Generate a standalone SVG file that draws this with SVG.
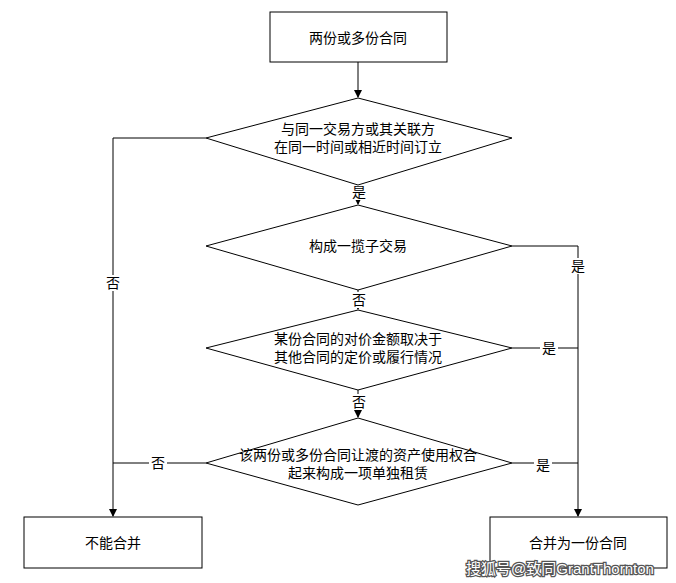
<svg xmlns="http://www.w3.org/2000/svg" width="676" height="583" viewBox="0 0 676 583">
<style>
.s{fill:#fff;stroke:#000;stroke-width:1}
.t{font-family:"Liberation Sans","Noto Sans CJK SC",sans-serif;font-size:14px;text-anchor:middle;dominant-baseline:central;fill:#000}
.c{fill:none;stroke:#000;stroke-width:1}
.lb{fill:#fff}
</style>
<defs><marker id="a" markerWidth="8" markerHeight="8" refX="7" refY="4" orient="auto" markerUnits="userSpaceOnUse"><path d="M0,0 L8,4 L0,8 Z" fill="#000"/></marker></defs>
<rect width="676" height="583" fill="#fff"/>
<g id="connectors">
<path class="c" d="M358,62 V97" marker-end="url(#a)"/>
<path class="c" d="M358,185 V204" marker-end="url(#a)"/>
<path class="c" d="M358,290 V309" marker-end="url(#a)"/>
<path class="c" d="M358,390 V417" marker-end="url(#a)"/>
<path class="c" d="M206,138 H113 V516" marker-end="url(#a)"/>
<path class="c" d="M206,463 H113"/>
<path class="c" d="M512,246 H578 V516" marker-end="url(#a)"/>
<path class="c" d="M512,348 H578"/>
<path class="c" d="M512,463 H578"/>
<rect class="lb" x="350" y="184" width="18" height="16"/><text class="t" x="359" y="192">是</text>
<rect class="lb" x="350" y="292" width="18" height="16"/><text class="t" x="359" y="300">否</text>
<rect class="lb" x="350" y="394" width="18" height="16"/><text class="t" x="359" y="402">否</text>
<rect class="lb" x="104" y="275" width="18" height="16"/><text class="t" x="113" y="283">否</text>
<rect class="lb" x="149" y="455" width="18" height="16"/><text class="t" x="158" y="463">否</text>
<rect class="lb" x="569" y="258" width="18" height="16"/><text class="t" x="578" y="266">是</text>
<rect class="lb" x="540" y="340" width="18" height="16"/><text class="t" x="549" y="348">是</text>
<rect class="lb" x="534" y="457" width="18" height="16"/><text class="t" x="543" y="465">是</text>
</g>
<g id="n1"><rect class="s" x="270" y="12" width="177" height="50"/><text class="t" x="358" y="38">两份或多份合同</text></g>
<g id="d1"><path class="s" d="M358,98 L512,138 L358,185 L206,138 Z"/><text class="t" x="358" y="129">与同一交易方或其关联方</text><text class="t" x="358" y="147">在同一时间或相近时间订立</text></g>
<g id="d2"><path class="s" d="M358,205 L512,246 L358,290 L206,246 Z"/><text class="t" x="358" y="246">构成一揽子交易</text></g>
<g id="d3"><path class="s" d="M358,310 L512,348 L358,390 L206,348 Z"/><text class="t" x="358" y="339">某份合同的对价金额取决于</text><text class="t" x="358" y="357">其他合同的定价或履行情况</text></g>
<g id="d4"><path class="s" d="M358,418 L512,463 L358,505 L206,463 Z"/><text class="t" x="358" y="455">该两份或多份合同让渡的资产使用权合</text><text class="t" x="358" y="473">起来构成一项单独租赁</text></g>
<g id="n2"><rect class="s" x="24" y="517" width="178" height="51"/><text class="t" x="113" y="543">不能合并</text></g>
<g id="n3"><rect class="s" x="490" y="517" width="177" height="51"/><text class="t" x="578" y="543">合并为一份合同</text></g>
<text x="560" y="568" style="font-family:'Liberation Sans','Noto Sans CJK SC',sans-serif;font-size:15px;text-anchor:middle;dominant-baseline:central;fill:#fff;stroke:#555;stroke-width:2.5;paint-order:stroke">搜狐号@致同GrantThornton</text>
</svg>
